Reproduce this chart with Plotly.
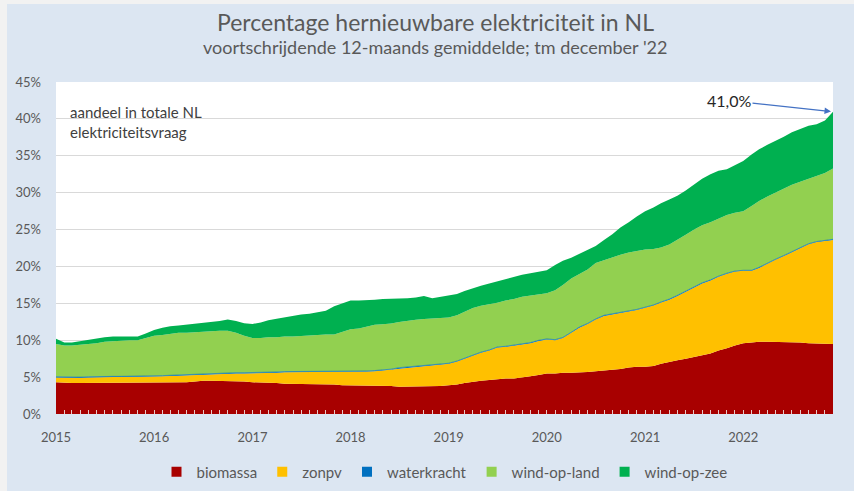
import plotly.graph_objects as go

# ---- data (monthly, Jan 2015 .. Dec 2022), percent of total NL electricity demand ----
years = [2015, 2016, 2017, 2018, 2019, 2020, 2021, 2022]
months = [f"{y}-{m:02d}-01" for y in years for m in range(1, 13)]
year_ticks = [f"{y}-01-01" for y in years]
year_labels = [str(y) for y in years]

biomassa = [
    4.3, 4.2, 4.2, 4.2, 4.2, 4.2, 4.2, 4.2, 4.2, 4.2, 4.2, 4.3,
    4.3, 4.3, 4.3, 4.3, 4.3, 4.4, 4.5, 4.5, 4.5, 4.5, 4.5, 4.4,
    4.3, 4.3, 4.3, 4.2, 4.1, 4.1, 4.1, 4.0, 4.0, 4.0, 4.0, 3.9,
    3.9, 3.9, 3.9, 3.9, 3.9, 3.8, 3.7, 3.7, 3.7, 3.7, 3.8, 3.8,
    3.9, 4.0, 4.2, 4.4, 4.5, 4.6, 4.7, 4.8, 4.8, 4.9, 5.1, 5.3,
    5.5, 5.5, 5.6, 5.6, 5.6, 5.7, 5.8, 5.9, 6.0, 6.1, 6.3, 6.4,
    6.4, 6.5, 6.8, 7.1, 7.3, 7.5, 7.7, 7.9, 8.2, 8.6, 8.9, 9.3,
    9.6, 9.7, 9.8, 9.8, 9.8, 9.7, 9.7, 9.7, 9.6, 9.6, 9.6, 9.5,
]
zonpv = [
    0.65, 0.7, 0.7, 0.7, 0.75, 0.8, 0.8, 0.8, 0.8, 0.8, 0.8, 0.8,
    0.8, 0.8, 0.85, 0.9, 1.0, 0.95, 0.9, 0.95, 1.0, 1.0, 1.0, 1.1,
    1.2, 1.25, 1.3, 1.4, 1.55, 1.55, 1.6, 1.7, 1.7, 1.7, 1.7, 1.8,
    1.8, 1.8, 1.85, 1.9, 2.0, 2.2, 2.5, 2.6, 2.7, 2.8, 2.8, 2.9,
    2.9, 3.1, 3.3, 3.5, 3.8, 4.0, 4.3, 4.3, 4.5, 4.5, 4.5, 4.6,
    4.6, 4.5, 4.7, 5.4, 6.1, 6.5, 7.0, 7.4, 7.5, 7.6, 7.6, 7.7,
    8.0, 8.2, 8.3, 8.4, 8.7, 9.1, 9.5, 9.8, 9.9, 10.0, 10.1, 10.0,
    9.8, 9.7, 10.0, 10.6, 11.1, 11.7, 12.2, 12.8, 13.4, 13.7, 13.9, 14.1,
]
waterkracht = [
    0.10, 0.10, 0.10, 0.10, 0.10, 0.10, 0.10, 0.10, 0.10, 0.10, 0.10, 0.10,
    0.10, 0.10, 0.10, 0.10, 0.10, 0.10, 0.10, 0.10, 0.10, 0.10, 0.10, 0.10,
    0.10, 0.10, 0.10, 0.10, 0.10, 0.10, 0.09, 0.09, 0.09, 0.09, 0.09, 0.09,
    0.09, 0.09, 0.09, 0.09, 0.08, 0.08, 0.08, 0.08, 0.08, 0.08, 0.08, 0.08,
    0.08, 0.08, 0.08, 0.08, 0.08, 0.08, 0.08, 0.08, 0.08, 0.08, 0.08, 0.08,
    0.08, 0.08, 0.08, 0.08, 0.08, 0.08, 0.08, 0.08, 0.08, 0.08, 0.08, 0.08,
    0.08, 0.08, 0.08, 0.08, 0.08, 0.08, 0.08, 0.08, 0.08, 0.08, 0.08, 0.08,
    0.08, 0.08, 0.08, 0.08, 0.08, 0.08, 0.08, 0.08, 0.08, 0.08, 0.08, 0.08,
]
wind_op_land = [
    4.45, 4.3, 4.3, 4.4, 4.45, 4.5, 4.7, 4.8, 4.8, 4.9, 4.9, 5.1,
    5.4, 5.5, 5.55, 5.7, 5.6, 5.65, 5.7, 5.65, 5.7, 5.7, 5.4, 5.0,
    4.7, 4.65, 4.7, 4.7, 4.75, 4.75, 4.8, 4.85, 4.9, 5.0, 5.0, 5.3,
    5.7, 5.8, 5.95, 6.2, 6.2, 6.2, 6.2, 6.2, 6.3, 6.3, 6.3, 6.2,
    6.2, 6.2, 6.3, 6.4, 6.3, 6.2, 6.0, 6.2, 6.2, 6.4, 6.4, 6.3,
    6.2, 6.7, 7.1, 7.3, 7.2, 7.3, 7.6, 7.5, 7.7, 7.8, 7.9, 7.9,
    7.8, 7.6, 7.4, 7.4, 7.5, 7.6, 7.7, 7.8, 7.8, 7.8, 7.9, 7.9,
    8.0, 8.7, 9.0, 9.0, 9.0, 9.1, 9.1, 8.9, 8.8, 8.9, 9.1, 9.6,
]
wind_op_zee = [
    0.7, 0.4, 0.4, 0.5, 0.5, 0.6, 0.6, 0.6, 0.6, 0.6, 0.5, 0.6,
    0.8, 1.0, 1.1, 1.0, 1.1, 1.1, 1.1, 1.2, 1.3, 1.5, 1.6, 1.7,
    1.9, 2.1, 2.3, 2.5, 2.6, 2.8, 2.9, 2.95, 3.1, 3.2, 3.8, 3.9,
    3.9, 3.8, 3.6, 3.4, 3.4, 3.3, 3.2, 3.1, 3.0, 3.1, 2.7, 2.9,
    3.0, 2.9, 2.8, 2.7, 2.7, 2.8, 2.9, 2.9, 3.0, 3.0, 3.0, 3.0,
    3.1, 3.4, 3.3, 2.8, 2.7, 2.6, 2.3, 2.7, 3.1, 3.7, 4.1, 4.7,
    5.2, 5.6, 6.0, 6.1, 6.0, 6.0, 6.1, 6.3, 6.5, 6.5, 6.2, 6.4,
    6.8, 7.0, 7.0, 7.0, 7.0, 7.0, 7.1, 7.2, 7.2, 7.0, 7.1, 7.7,
]

series_names = ["biomassa", "zonpv", "waterkracht", "wind-op-land", "wind-op-zee"]
series_values = [biomassa, zonpv, waterkracht, wind_op_land, wind_op_zee]
series_colors = ["#a80000", "#ffc000", "#0070c0", "#92d050", "#00b050"]

title_text = "Percentage hernieuwbare elektriciteit in NL"
subtitle_text = "voortschrijdende 12-maands gemiddelde; tm december '22"
note_text = "aandeel in totale NL<br>elektriciteitsvraag"
last_label = "41,0%"

FONT = "Lato, 'Noto Sans', sans-serif"
GREY = "#595959"

fig = go.Figure()
for name, vals, col in zip(series_names, series_values, series_colors):
    fig.add_trace(go.Scatter(
        x=months, y=vals, name=name, stackgroup="one", mode="lines",
        line=dict(width=0.6 if name == "waterkracht" else 0, color=col),
        fillcolor=col, showlegend=False,
        hovertemplate="%{x|%b %Y}: %{y:.1f}%<extra>" + name + "</extra>",
    ))
# legend entries with small square swatches
for name, col in zip(series_names, series_colors):
    fig.add_trace(go.Scatter(
        x=[None], y=[None], name=name, mode="markers",
        marker=dict(symbol="square", size=10, color=col), showlegend=True,
    ))

total_last = sum(v[-1] for v in series_values)

W, H = 854, 491
L, R, T, B = 56, 833, 82, 414
pw, ph = R - L, B - T


def px(xp):
    return (xp - L) / pw


def py(yp):
    return (B - yp) / ph


fig.update_layout(
    width=W, height=H,
    margin=dict(l=L, r=W - R, t=T, b=H - B, autoexpand=False),
    paper_bgcolor="#dce6f2",
    plot_bgcolor="#ffffff",
    font=dict(family=FONT, color=GREY, size=13),
    showlegend=True,
    legend=dict(
        orientation="h", x=0.5, xanchor="center", y=py(472), yanchor="middle",
        font=dict(size=15, color=GREY), bgcolor="rgba(0,0,0,0)",
        itemwidth=30, tracegroupgap=0, traceorder="normal",
    ),
    xaxis=dict(
        type="date", range=[months[0], months[-1]],
        tickmode="array", tickvals=year_ticks, ticktext=year_labels,
        ticks="inside", ticklen=4, tickcolor="#e8c8c8", tickwidth=1,
        minor=dict(dtick="M1", ticks="inside", ticklen=4, tickcolor="#e8c8c8", tickwidth=1),
        showgrid=False, zeroline=False, showline=False, automargin=False,
        tickfont=dict(size=13, color=GREY), ticklabelstandoff=14,
        fixedrange=True,
    ),
    yaxis=dict(
        range=[0, 45], dtick=5, ticksuffix="%",
        showgrid=True, gridcolor="#d9d9d9", gridwidth=1,
        zeroline=False, showline=False, ticks="", automargin=False,
        tickfont=dict(size=13, color=GREY), ticklabelstandoff=14,
        fixedrange=True,
    ),
    shapes=[
        dict(type="rect", xref="paper", yref="paper", x0=px(0), x1=px(7), y0=py(H), y1=py(0),
             fillcolor="#f2f2f2", line=dict(width=0), layer="above"),
        dict(type="rect", xref="paper", yref="paper", x0=px(0), x1=px(W), y0=py(4), y1=py(0),
             fillcolor="#f2f2f2", line=dict(width=0), layer="above"),
    ],
    annotations=[
        dict(text=title_text, xref="paper", yref="paper", x=px(435), y=py(22),
             xanchor="center", yanchor="middle", showarrow=False,
             font=dict(size=23, color=GREY, family=FONT)),
        dict(text=subtitle_text, xref="paper", yref="paper", x=px(435), y=py(47),
             xanchor="center", yanchor="middle", showarrow=False,
             font=dict(size=18, color=GREY, family=FONT)),
        dict(text=note_text, xref="paper", yref="paper", x=px(68), y=py(101),
             xanchor="left", yanchor="top", align="left", showarrow=False,
             font=dict(size=15, color="#404040", family=FONT)),
        dict(text=last_label, x=months[-1], y=total_last, xref="x", yref="y",
             showarrow=True, ax=-104, ay=-11, axref="pixel", ayref="pixel",
             arrowhead=2, arrowsize=1, arrowwidth=1.3, arrowcolor="#4472c4",
             standoff=2, font=dict(size=16, color="#262626", family=FONT)),
    ],
)

fig.write_html("out.html", config={"displayModeBar": False},
               post_script="document.body.style.margin='0px';")
